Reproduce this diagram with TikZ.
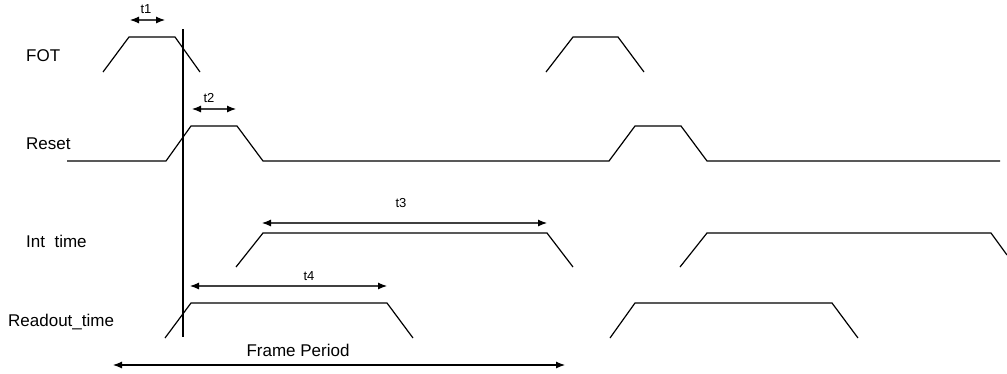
\documentclass[tikz,border=0pt]{standalone}
\usepackage{fontspec}
\setmainfont{Liberation Sans}
\usetikzlibrary{arrows.meta}
\begin{document}
\begin{tikzpicture}[x=1pt,y=-1pt,
  sig/.style={line width=1.2pt, line join=miter, black},
  dim/.style={line width=1.1pt, black!75, {Latex[length=9pt,width=7pt,black]}-{Latex[length=9pt,width=7pt,black]}},
  lab/.style={font=\fontsize{17}{20}\selectfont, anchor=base west, inner sep=0pt},
  tlab/.style={font=\fontsize{13}{15}\selectfont, anchor=base, inner sep=0pt}]
\useasboundingbox (0,0) rectangle (1007,373);

% signal labels
\node[lab] (lfot) at (26,61) {FOT};
\node[lab] (lreset) at (26,149) {Reset};
\node[lab] (lint) at (26,247) {Int\ \ time};
\node[lab] (lread) at (8,326) {Readout\_time};

% FOT
\draw[sig] (103,72) -- (129,37) -- (175,37) -- (200,72);
\draw[sig] (546,72) -- (573,37) -- (618,37) -- (644,72);

% Reset
\draw[sig] (67,161) -- (166,161) -- (191,126) -- (237,126) -- (263,161)
  -- (609,161) -- (635,126) -- (681,126) -- (707,161) -- (1000,161);

% Int time
\draw[sig] (236,267) -- (263,233) -- (547,233) -- (573,267);
\draw[sig] (680,267) -- (707,233) -- (991,233) -- (1007,255);

% Readout time
\draw[sig] (165,338) -- (191,303) -- (387,303) -- (413,338);
\draw[sig] (610,338) -- (635,303) -- (832,303) -- (858,338);

% vertical reference line
\coordinate (vtop) at (183,29);
\coordinate (vbot) at (183,337);
\draw[line width=1.4pt] (vtop) -- (vbot);

% dimension arrows
\coordinate (t1a) at (130,20); \coordinate (t1b) at (165,20);
\draw[dim] (t1a) -- (t1b);
\node[tlab] (t1) at (146,13) {t1};

\coordinate (t2a) at (192,109); \coordinate (t2b) at (236,109);
\draw[dim] (t2a) -- (t2b);
\node[tlab] (t2) at (209,102) {t2};

\coordinate (t3a) at (262,223); \coordinate (t3b) at (547,223);
\draw[dim] (t3a) -- (t3b);
\node[tlab] (t3) at (401,207) {t3};

\coordinate (t4a) at (190,286); \coordinate (t4b) at (387,286);
\draw[dim] (t4a) -- (t4b);
\node[tlab] (t4) at (309,280) {t4};

\coordinate (fpa) at (113,365); \coordinate (fpb) at (565,365);
\draw[dim, black] (fpa) -- (fpb);
\node[font=\fontsize{17}{20}\selectfont, anchor=base, inner sep=0pt] (fp) at (298,356) {Frame Period};
\end{tikzpicture}
\end{document}
